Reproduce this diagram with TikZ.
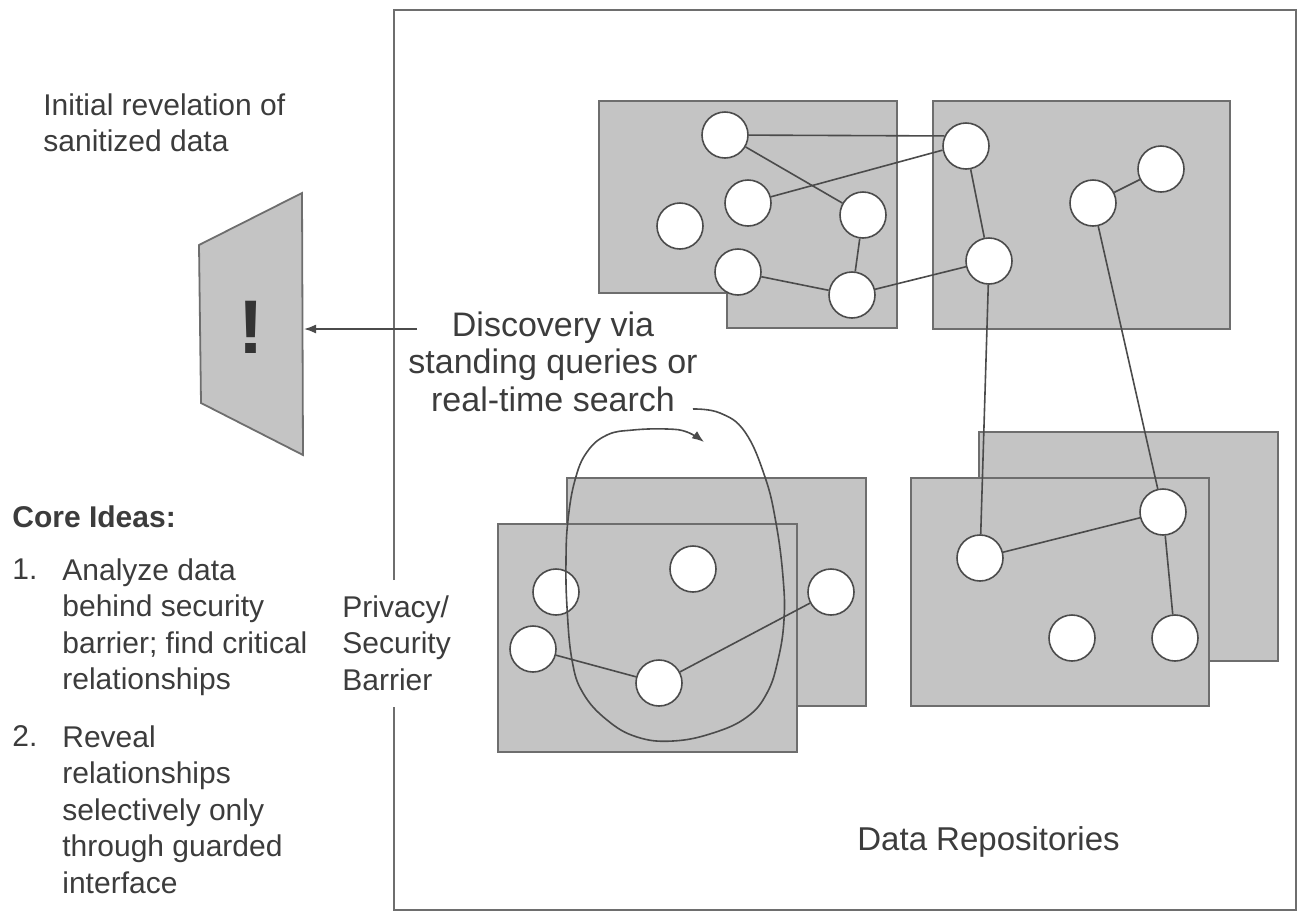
\documentclass[tikz,border=0pt]{standalone}
\usepackage{fontspec}
\setmainfont{Liberation Sans}
\usetikzlibrary{arrows.meta}
\definecolor{repofill}{RGB}{196,196,196}
\definecolor{repoline}{RGB}{110,110,110}
\definecolor{linkline}{RGB}{75,75,75}
\definecolor{inktext}{RGB}{60,60,60}

\begin{document}
\begin{tikzpicture}[x=0.5pt, y=-0.5pt,
  main/.style = {draw=linkline, fill=white, circle, line width=0.8pt, minimum size=23pt, inner sep=0pt},
  repo/.style = {draw=repoline, fill=repofill, line width=0.9pt},
  link/.style = {draw=linkline, line width=0.8pt},
  tip/.style = {-{Latex[length=6pt, width=4.5pt]}},
  txt/.style = {text=inktext, inner sep=0pt, align=left, font=\fontsize{15}{18.25}\selectfont}]
\useasboundingbox (0,0) rectangle (1298,912);

\draw[repoline, line width=0.75pt] (394,580) -- (394,10) -- (1296,10) -- (1296,910) -- (394,910) -- (394,707);

\draw[repo] (599,101) -- (897,101) -- (897,328) -- (727,328) -- (727,293) -- (599,293) -- cycle;
\draw[repo] (933,101) rectangle (1230,329);
\draw[repo] (567,478) rectangle (866,706);
\draw[repo] (498,524) rectangle (797,752);
\draw[repo] (979,432) rectangle (1278,661);
\draw[repo] (911,478) rectangle (1209,706);

\node[main] (1) at (725,135) {};
\node[main] (2) at (748,203) {};
\node[main] (3) at (680,226) {};
\node[main] (4) at (863,215) {};
\node[main] (5) at (738,272) {};
\node[main] (6) at (852,295) {};
\node[main] (7) at (966,146) {};
\node[main] (8) at (989,261) {};
\node[main] (9) at (1093,203) {};
\node[main] (10) at (1161,169) {};
\node[main] (11) at (556,592) {};
\node[main] (12) at (693,569) {};
\node[main] (13) at (533,649) {};
\node[main] (14) at (659,683) {};
\node[main] (15) at (831,592) {};
\node[main] (16) at (980,558) {};
\node[main] (17) at (1163,512) {};
\node[main] (18) at (1072,638) {};
\node[main] (19) at (1175,638) {};

\path (1) edge [link] (7.155);
\path (1) edge [link] (4);
\path (2) edge [link] (7.190);
\path (4) edge [link] (6);
\path (5) edge [link] (6);
\path (6) edge [link] (8);
\path (7) edge [link] (8);
\path (9) edge [link] (10);
\path (8) edge [link] (16);
\path (9) edge [link] (17);
\path (16) edge [link] (17);
\path (17) edge [link] (19);
\path (13) edge [link] (14);
\path (14) edge [link] (15);

\draw[repo] (199,245) -- (302,193) -- (303,455) -- (201,403) -- cycle;
\node[text=black!80, inner sep=0pt, font=\fontsize{38}{40}\selectfont\bfseries] (alert) at (251,327) {!};
\coordinate (screen) at (304,329);
\coordinate (qstart) at (417,329);
\draw[link, tip] (qstart) -- (screen);

\node[txt, align=center, anchor=north, font=\fontsize{17}{18.75}\selectfont] (disc) at (553,311) {Discovery via\\standing queries or\\real-time search};
\draw[link, tip] plot[smooth, tension=0.7] coordinates {(693,409) (720,413) (745,432) (765,477) (776,523) (783,577) (784,620) (778,660) (767,693) (747,717) (713,733) (673,741) (637,737) (607,720) (583,693) (572,660) (567,607) (566,560) (568,520) (575,480) (587,452) (607,435) (633,430) (667,429) (687,432) (704,442)};

\node[txt, anchor=north west] (reveal) at (43,93) {Initial revelation of\\sanitized data};
\node[txt, anchor=north west, font=\fontsize{15}{18.25}\selectfont\bfseries] (core) at (12,505) {Core Ideas:};
\node[txt, anchor=north west] (n1) at (12,558.5) {1.};
\node[txt, anchor=north west] (idea1) at (62,558) {Analyze data\\behind security\\barrier; find critical\\relationships};
\node[txt, anchor=north west] (n2) at (12,725.5) {2.};
\node[txt, anchor=north west] (idea2) at (62,725) {Reveal\\relationships\\selectively only\\through guarded\\interface};
\node[txt, anchor=north west] (barrier) at (342,595) {Privacy/\\Security\\Barrier};
\node[txt, anchor=base west, font=\fontsize{16.5}{19}\selectfont] (repos) at (857,850) {Data Repositories};
\end{tikzpicture}
\end{document}
